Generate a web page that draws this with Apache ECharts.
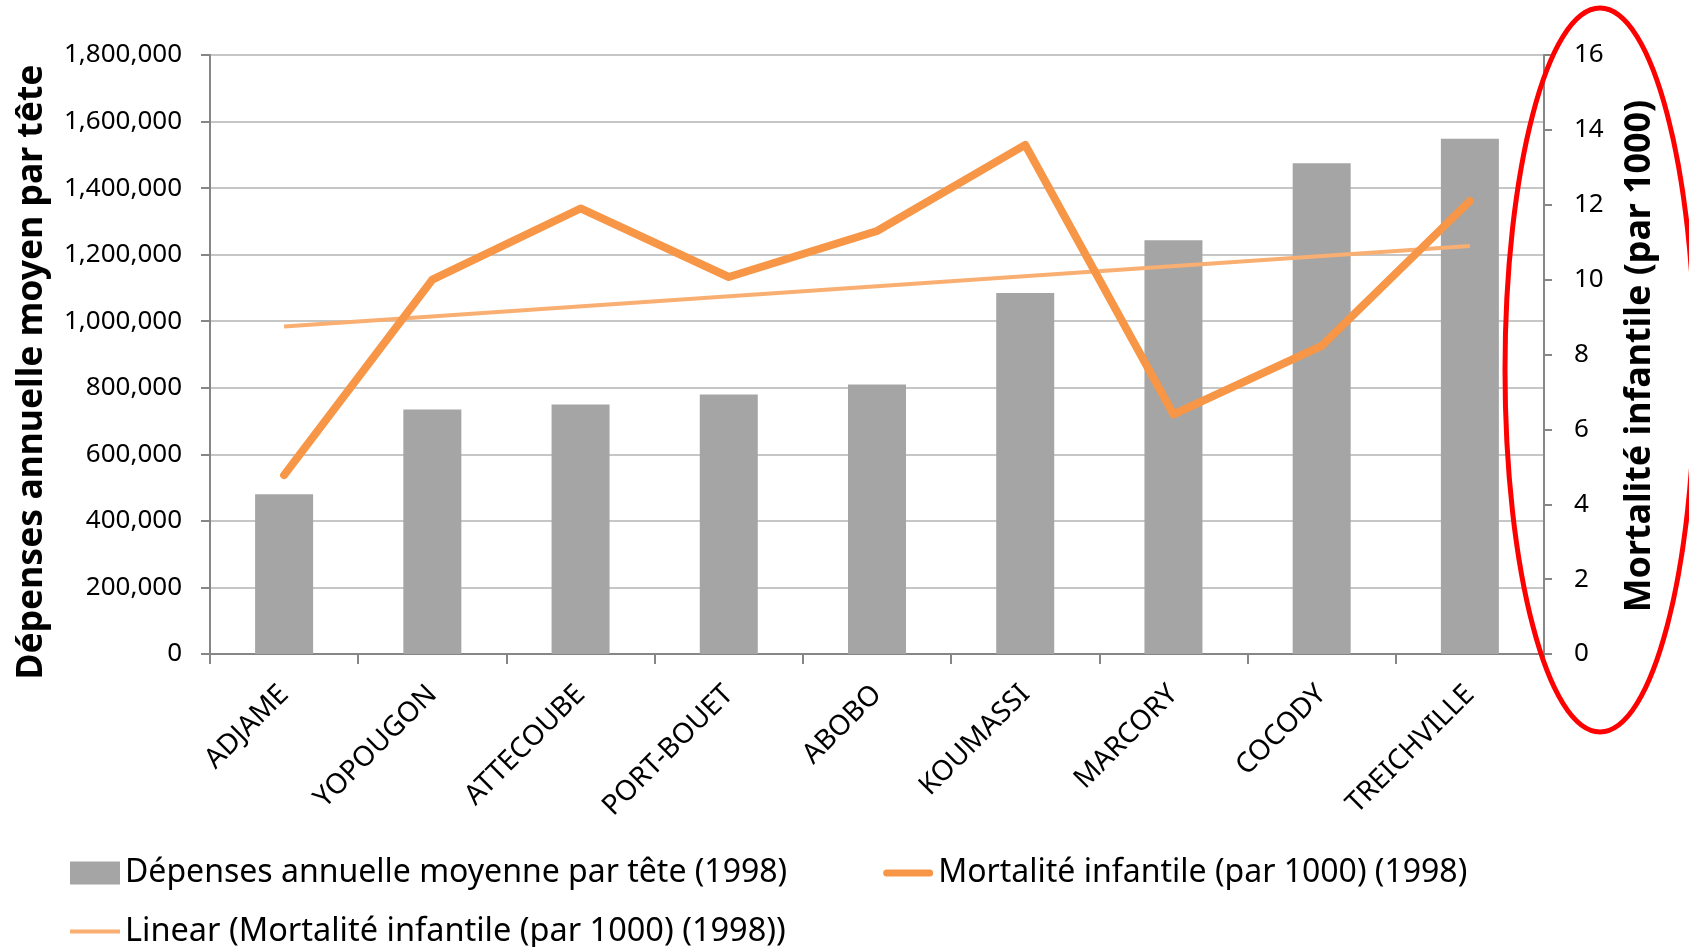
<!DOCTYPE html>
<html>
<head>
<meta charset="utf-8">
<script src="https://cdn.jsdelivr.net/npm/echarts@6/dist/echarts.min.js"></script>
<style>
  html, body { margin: 0; padding: 0; background: #fff; }
  #chart { width: 1689px; height: 947px; }
</style>
</head>
<body>
<div id="chart"></div>
<script>
const communes = ['ADJAME', 'YOPOUGON', 'ATTECOUBE', 'PORT-BOUET', 'ABOBO', 'KOUMASSI', 'MARCORY', 'COCODY', 'TREICHVILLE']
const depenses = [480000, 735000, 750000, 780000, 810000, 1085000, 1243000, 1475000, 1548000]
const mortalite = [4.78, 10.0, 11.9, 10.07, 11.3, 13.6, 6.4, 8.23, 12.1]
// trend line: only the two ends
const tendance = [8.75, null, null, null, null, null, null, null, 10.9]

const nomDepenses = 'Dépenses annuelle moyenne par tête (1998)'
const nomMortalite = 'Mortalité infantile (par 1000) (1998)'
const nomTendance = 'Linear (Mortalité infantile (par 1000) (1998))'

const font = 'Noto Sans'
const orange = '#F79646'
const orangeClair = '#F9AE72'

// legend icons: thick line with round ends, thin line
const iconLigne = 'path://M4,0 H52 A4,4 0 0 1 52,8 H4 A4,4 0 0 1 4,0 Z'
const iconTendance = 'path://M0,0 H50 V4 H0 Z'

const chart = echarts.init(document.getElementById('chart'))
chart.setOption({
  backgroundColor: '#fff',
  animation: false,
  textStyle: { fontFamily: font, color: '#000' },
  grid: { left: 210, right: 145, top: 55, bottom: 293, containLabel: false, outerBoundsMode: 'none' },
  legend: [
    {
      left: 65, top: 852,
      itemWidth: 50, itemHeight: 23, itemGap: 96,
      textStyle: { fontFamily: font, fontSize: 32, color: '#000' },
      data: [
        { name: nomDepenses, icon: 'rect' },
        { name: nomMortalite, icon: iconLigne }
      ]
    },
    {
      left: 65, top: 910,
      itemWidth: 50, itemHeight: 23,
      textStyle: { fontFamily: font, fontSize: 32.5, color: '#000' },
      data: [{ name: nomTendance, icon: iconTendance }]
    }
  ],
  xAxis: {
    type: 'category',
    data: communes,
    boundaryGap: true,
    axisLine: { lineStyle: { color: '#868686', width: 2 } },
    axisTick: { show: true, length: 10, alignWithLabel: false, lineStyle: { color: '#868686', width: 2 } },
    axisLabel: { interval: 0, rotate: 45, margin: 36, fontSize: 28, fontFamily: font, color: '#000' },
    splitLine: { show: false }
  },
  yAxis: [
    {
      type: 'value',
      min: 0, max: 1800000, interval: 200000,
      axisLine: { show: true, lineStyle: { color: '#868686', width: 2 } },
      axisTick: { show: true, length: 9, lineStyle: { color: '#868686', width: 2 } },
      axisLabel: { margin: 28, fontSize: 26, fontFamily: font, color: '#000' },
      splitLine: { show: true, lineStyle: { color: '#C6C6C6', width: 2 } }
    },
    {
      type: 'value',
      min: 0, max: 16, interval: 2,
      position: 'right',
      axisLine: { show: true, lineStyle: { color: '#868686', width: 2 } },
      axisTick: { show: true, length: 8, lineStyle: { color: '#868686', width: 2 } },
      axisLabel: { margin: 30, fontSize: 26, fontFamily: font, color: '#000' },
      splitLine: { show: false }
    }
  ],
  series: [
    {
      name: nomDepenses,
      type: 'bar',
      data: depenses,
      barWidth: 58,
      itemStyle: { color: '#A5A5A5' }
    },
    {
      name: nomMortalite,
      type: 'line',
      yAxisIndex: 1,
      data: mortalite,
      symbol: 'none',
      lineStyle: { color: orange, width: 8, cap: 'round', join: 'round' },
      itemStyle: { color: orange },
      z: 4
    },
    {
      name: nomTendance,
      type: 'line',
      yAxisIndex: 1,
      data: tendance,
      connectNulls: true,
      symbol: 'none',
      lineStyle: { color: orangeClair, width: 4 },
      itemStyle: { color: orangeClair },
      z: 3
    }
  ],
  graphic: [
    {
      type: 'text', x: 32, y: 372, rotation: Math.PI / 2,
      style: {
        text: 'Dépenses annuelle moyen par tête', fontFamily: font, fontSize: 35.5, fontWeight: 'bold',
        fill: '#000', align: 'center', verticalAlign: 'middle'
      }
    },
    {
      type: 'text', x: 1640, y: 356, rotation: Math.PI / 2,
      style: {
        text: 'Mortalité infantile (par 1000)', fontFamily: font, fontSize: 35.8, fontWeight: 'bold',
        fill: '#000', align: 'center', verticalAlign: 'middle'
      }
    },
    {
      type: 'ellipse', z: 100,
      shape: { cx: 1600, cy: 370, rx: 95, ry: 362 },
      style: { fill: 'none', stroke: '#FF0000', lineWidth: 5 }
    }
  ]
})
</script>
</body>
</html>
